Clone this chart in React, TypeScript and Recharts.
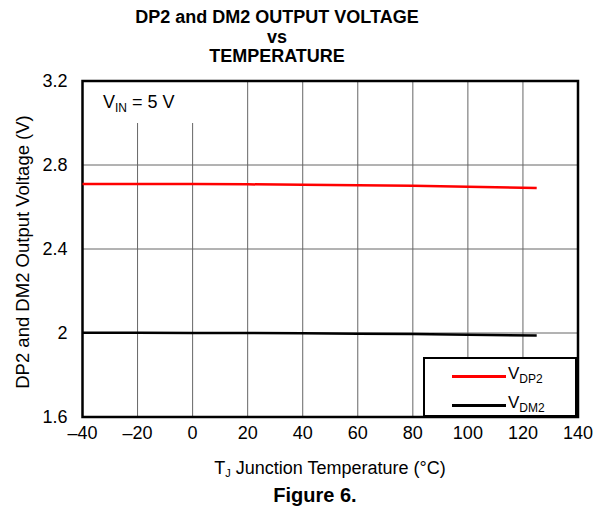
import React from "react";
import {
  LineChart,
  Line,
  XAxis,
  YAxis,
  CartesianGrid,
  ReferenceArea,
  Legend,
} from "recharts";

// values
const temps = [-40, -20, 0, 20, 40, 60, 80, 100, 125];
const vdp2 = [2.71, 2.709, 2.709, 2.708, 2.706, 2.704, 2.701, 2.697, 2.69];
const vdm2 = [2.001, 2.001, 2.0, 2.0, 1.999, 1.997, 1.995, 1.992, 1.988];
const xTicks = [-40, -20, 0, 20, 40, 60, 80, 100, 120, 140];
const yTicks = [1.6, 2, 2.4, 2.8, 3.2];

const FONT = "'Liberation Sans', Arial, sans-serif";

const data = temps.map((t, i) => ({ t, vdp2: vdp2[i], vdm2: vdm2[i] }));

const fmtX = (v: number) => (v < 0 ? `\u2013${Math.abs(v)}` : `${v}`);

const LegendBox = () => (
  <div
    style={{
      width: 150,
      height: 56,
      border: "2px solid #000",
      background: "#fff",
      fontFamily: FONT,
      fontSize: 17,
      color: "#000",
      position: "relative",
    }}
  >
    {[
      { color: "#ff0000", sub: "DP2", top: 6 },
      { color: "#000000", sub: "DM2", top: 35 },
    ].map((it) => (
      <div key={it.sub} style={{ position: "absolute", left: 27, top: it.top, display: "flex", alignItems: "center" }}>
        <div style={{ width: 54, height: 2.5, background: it.color }} />
        <span style={{ marginLeft: 2, lineHeight: "18px" }}>
          V<sub style={{ fontSize: 12, verticalAlign: -4 }}>{it.sub}</sub>
        </span>
      </div>
    ))}
  </div>
);

export default function App() {
  const tickStyle = { fill: "#000", fontSize: 18, fontFamily: FONT };
  return (
    <div style={{ position: "absolute", left: 0, top: 0, width: 604, height: 508, background: "#fff", fontFamily: FONT, color: "#000" }}>
      {/* Title */}
      <div style={{ position: "absolute", left: 2, width: 550, top: 8, textAlign: "center", fontWeight: "bold", fontSize: 18, lineHeight: "19.5px" }}>
        <div>DP2 and DM2 OUTPUT VOLTAGE</div>
        <div>vs</div>
        <div>TEMPERATURE</div>
      </div>

      <LineChart width={604} height={508} data={data} margin={{ top: 81, right: 26, left: 0, bottom: 61 }}>
        <CartesianGrid stroke="#666" strokeWidth={1} />
        <XAxis
          type="number"
          dataKey="t"
          domain={[-40, 140]}
          ticks={xTicks}
          tickFormatter={fmtX}
          tick={tickStyle}
          tickLine={false}
          axisLine={false}
          tickSize={0}
          tickMargin={9}
          height={30}
          interval={0}
        />
        <YAxis
          type="number"
          domain={[1.6, 3.2]}
          ticks={yTicks}
          tick={tickStyle}
          tickLine={false}
          axisLine={false}
          tickSize={0}
          tickMargin={15}
          width={82.5}
          interval={0}
        />
        {/* white patch behind the V_IN note */}
        <ReferenceArea x1={-40} x2={2} y1={3.0} y2={3.2} fill="#fff" fillOpacity={1} stroke="none" />
        <Line type="linear" dataKey="vdp2" stroke="#ff0000" strokeWidth={2.5} dot={false} isAnimationActive={false} />
        <Line type="linear" dataKey="vdm2" stroke="#000000" strokeWidth={2.5} dot={false} isAnimationActive={false} />
        {/* plot frame */}
        <ReferenceArea x1={-40} x2={140} y1={1.6} y2={3.2} fill="none" stroke="#000" strokeWidth={2.5} ifOverflow="visible" />
        <Legend
          layout="horizontal"
          verticalAlign="middle"
          align="center"
          content={() => <LegendBox />}
          wrapperStyle={{ position: "absolute", left: 423, top: 357, width: "auto" }}
        />
      </LineChart>

      {/* V_IN note */}
      <div style={{ position: "absolute", left: 103, top: 92, fontSize: 18, lineHeight: "20px" }}>
        V<sub style={{ fontSize: 12, verticalAlign: -4 }}>IN</sub> = 5 V
      </div>

      {/* Y axis title */}
      <div
        style={{
          position: "absolute",
          left: 23,
          top: 252,
          transform: "translate(-50%, -50%) rotate(-90deg)",
          whiteSpace: "nowrap",
          fontSize: 18.5,
        }}
      >
        DP2 and DM2 Output Voltage (V)
      </div>

      {/* X axis title */}
      <div style={{ position: "absolute", left: 0, width: 660, top: 458, textAlign: "center", fontSize: 18, lineHeight: "20px" }}>
        T<sub style={{ fontSize: 11, verticalAlign: -3 }}>J</sub> Junction Temperature (°C)
      </div>

      {/* caption */}
      <div style={{ position: "absolute", left: 0, width: 630, top: 484, textAlign: "center", fontSize: 20, fontWeight: "bold", lineHeight: "22px" }}>
        Figure 6.
      </div>
    </div>
  );
}
